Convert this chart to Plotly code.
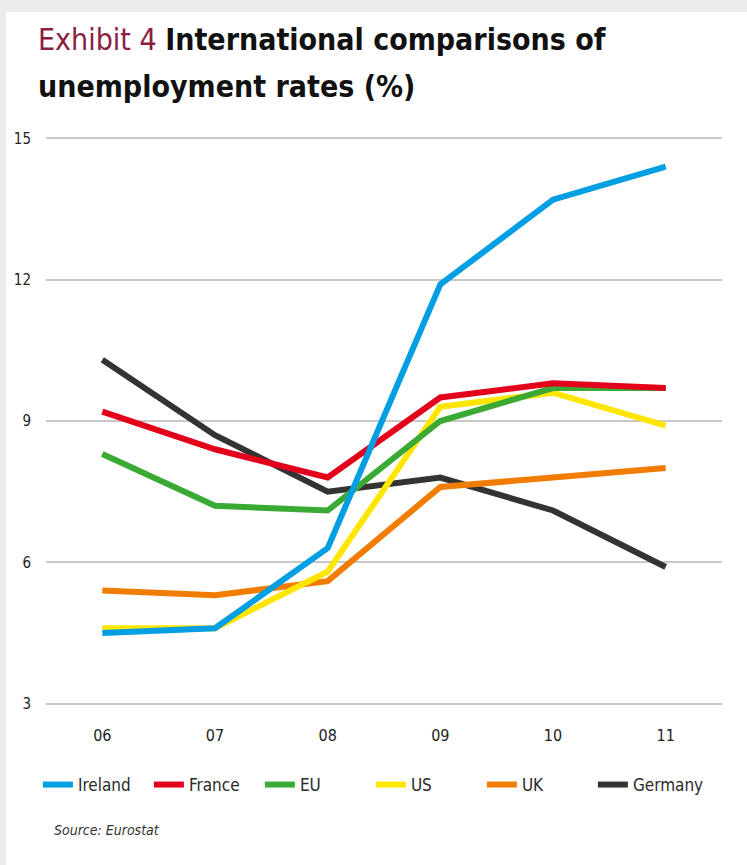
import plotly.graph_objects as go

years = ["06", "07", "08", "09", "10", "11"]
ireland = [4.5, 4.6, 6.3, 11.9, 13.7, 14.4]
france = [9.2, 8.4, 7.8, 9.5, 9.8, 9.7]
eu = [8.3, 7.2, 7.1, 9.0, 9.7, 9.7]
us = [4.6, 4.6, 5.8, 9.3, 9.6, 8.9]
uk = [5.4, 5.3, 5.6, 7.6, 7.8, 8.0]
germany = [10.3, 8.7, 7.5, 7.8, 7.1, 5.9]
y_ticks = [3, 6, 9, 12, 15]

FONT = "DejaVu Sans Condensed, DejaVu Sans, sans-serif"
PH = 568  # plot height in px for paper conversions
PB = 705  # plot bottom pixel

def py(pix):
    return (PB - pix) / PH

series = [
    ("Germany", germany, "#333333", 6),
    ("UK", uk, "#f07d00", 5),
    ("US", us, "#ffe600", 4),
    ("EU", eu, "#3aaa35", 3),
    ("France", france, "#e2001a", 2),
    ("Ireland", ireland, "#009fe3", 1),
]

fig = go.Figure()
xs = list(range(len(years)))
for name, vals, color, rank in series:
    fig.add_trace(go.Scatter(
        x=xs, y=vals, name=name, mode="lines",
        line=dict(color=color, width=6),
        legendrank=rank,
    ))

fig.update_layout(
    width=747, height=865,
    margin=dict(l=46, r=25, t=137, b=160),
    paper_bgcolor="white", plot_bgcolor="white",
    font=dict(family=FONT, color="#222222", size=15),
    showlegend=True,
    legend=dict(
        orientation="h", x=-0.012, xanchor="left", y=py(785), yanchor="middle",
        font=dict(size=17, family=FONT, color="#2a2a2a"),
        traceorder="normal", entrywidth=66, entrywidthmode="pixels",
    ),
    xaxis=dict(
        range=[-0.5, 5.5], tickmode="array", tickvals=xs, ticktext=years,
        showgrid=False, zeroline=False, showline=False, ticks="",
        tickfont=dict(size=16), ticklabelstandoff=19,
    ),
    yaxis=dict(
        range=[2.97, 15.03], tickmode="array", tickvals=y_ticks,
        showgrid=True, gridcolor="#c8c8c8", gridwidth=1.5,
        zeroline=False, showline=False, ticks="",
        tickfont=dict(size=15), ticklabelstandoff=14,
    ),
    shapes=[
        dict(type="rect", xref="paper", yref="paper",
             x0=-46/676, x1=-40/676, y0=py(865), y1=py(0),
             fillcolor="#ececec", line=dict(width=0), layer="below"),
        dict(type="rect", xref="paper", yref="paper",
             x0=-46/676, x1=701/676, y0=py(12), y1=py(0),
             fillcolor="#ececec", line=dict(width=0), layer="below"),
    ],
    annotations=[
        dict(
            xref="paper", yref="paper", x=-10/676, y=py(20),
            xanchor="left", yanchor="top", align="left", showarrow=False,
            text=("<span style='color:#8c1d40;font-weight:normal'>Exhibit 4</span> "
                  "<b>International comparisons of</b>"),
            font=dict(size=30, family=FONT, color="#111111"),
        ),
        dict(
            xref="paper", yref="paper", x=-10/676, y=py(67),
            xanchor="left", yanchor="top", align="left", showarrow=False,
            text="<b>unemployment rates (%)</b>",
            font=dict(size=30, family=FONT, color="#111111"),
        ),
        dict(
            xref="paper", yref="paper", x=6/676, y=py(830),
            xanchor="left", yanchor="middle", showarrow=False,
            text="<i>Source: Eurostat</i>",
            font=dict(size=14, family=FONT, color="#333333"),
        ),
    ],
)

fig.write_html(
    "out.html",
    config={"displayModeBar": False},
    post_script="document.body.style.margin='0';document.body.style.padding='0';",
)
